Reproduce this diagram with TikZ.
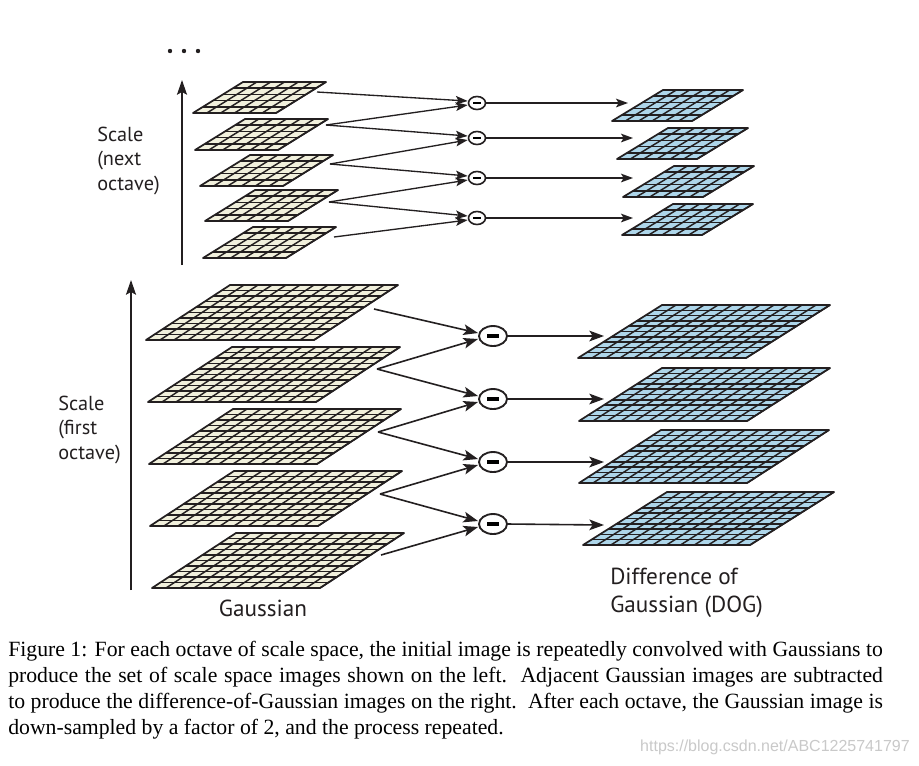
\documentclass[tikz,border=0pt]{standalone}
\usepackage{fontspec}
\setmainfont{Liberation Serif}
\newfontfamily\labfont{PT Sans}
\newfontfamily\wmfont{Liberation Sans}
\usetikzlibrary{arrows.meta,calc,shapes.geometric}

\definecolor{gfill}{HTML}{F1F0DC}
\definecolor{dfill}{HTML}{AED6EA}
\definecolor{ink}{HTML}{231F20}
\definecolor{wmgray}{HTML}{C9C9C9}

% #1 xbl, #2 ytop, #3 w, #4 h, #5 off, #6 cols, #7 rows, #8 fill
\newcommand\gridplane[8]{%
  \filldraw[fill=#8, draw=ink, line width=1.3pt, line join=round]
    (#1+#5,#2) -- ++(#3,0) -- (#1+#3,#2+#4) -- (#1,#2+#4) -- cycle;
  \foreach \i in {1,...,#7}{%
    \draw[gridline] ({#1+#5*(1-\i/#7)},{#2+\i*#4/#7}) -- ++(#3,0);}
  \foreach \j in {1,...,#6}{%
    \draw[gridline] ({#1+#5+\j*#3/#6},#2) -- ({#1+\j*#3/#6},{#2+#4});}
}

\tikzset{
  gridline/.style={draw=ink, line width=1.1pt},
  bigarr/.style={draw=ink, line width=1.2pt, -{Stealth[length=11pt,width=8pt,inset=2.5pt]}},
  smallarr/.style={draw=ink, line width=1.0pt, -{Stealth[length=9pt,width=6.5pt,inset=2pt]}},
  axisarr/.style={draw=ink, line width=1.3pt, -{Stealth[length=11pt,width=7.5pt,inset=2pt]}},
  bigminus/.style={ellipse, draw=ink, line width=1.4pt, minimum width=21pt, minimum height=15pt, inner sep=0pt, fill=white},
  smallminus/.style={ellipse, draw=ink, line width=1.2pt, minimum width=12.75pt, minimum height=9.75pt, inner sep=0pt, fill=white},
  lab/.style={anchor=base west, inner sep=0pt, text=ink, font=\labfont\fontsize{15.2pt}{18pt}\selectfont},
  biglab/.style={anchor=base west, inner sep=0pt, text=ink, font=\labfont\fontsize{17.4pt}{20pt}\selectfont},
  captxt/.style={anchor=base west, inner sep=0pt, font=\fontsize{16.3pt}{19.5pt}\selectfont},
}

\begin{document}
\begin{tikzpicture}[x=0.75pt, y=-0.75pt]
\useasboundingbox[fill=white] (0,0) rectangle (919,765);

% ---------- bottom octave: Gaussian planes ----------
\gridplane{146}{285}{168}{55}{84}{12}{10}{gfill}
\gridplane{148}{347}{168}{55}{84}{12}{10}{gfill}
\gridplane{149}{409}{168}{55}{84}{12}{10}{gfill}
\gridplane{150}{471}{168}{55}{84}{12}{10}{gfill}
\gridplane{152}{533}{168}{55}{84}{12}{10}{gfill}

% ---------- bottom octave: DOG planes ----------
\gridplane{578}{305}{168}{53}{84}{12}{10}{dfill}
\gridplane{579}{368}{168}{53}{83}{12}{10}{dfill}
\gridplane{579}{430}{168}{53}{82}{12}{10}{dfill}
\gridplane{583}{492}{167}{53}{84}{12}{10}{dfill}

% ---------- top octave: Gaussian planes ----------
\gridplane{193}{82}{83}{31}{50}{6}{5}{gfill}
\gridplane{195}{119}{83}{31}{50}{6}{5}{gfill}
\gridplane{200}{155}{83}{31}{50}{6}{5}{gfill}
\gridplane{205}{190}{83}{31}{50}{6}{5}{gfill}
\gridplane{203}{227}{83}{31}{50}{6}{5}{gfill}

% ---------- top octave: DOG planes ----------
\gridplane{612}{90}{80}{31}{51}{6}{5}{dfill}
\gridplane{617}{128}{80}{31}{51}{6}{5}{dfill}
\gridplane{623}{166}{80}{31}{51}{6}{5}{dfill}
\gridplane{622}{204}{80}{31}{51}{6}{5}{dfill}

% ---------- subtraction nodes ----------
\node[bigminus] (c1) at (493,336) {\rule[-1.4pt]{9pt}{2.8pt}};
\node[bigminus] (c2) at (493,399) {\rule[-1.4pt]{9pt}{2.8pt}};
\node[bigminus] (c3) at (493,462) {\rule[-1.4pt]{9pt}{2.8pt}};
\node[bigminus] (c4) at (493,524) {\rule[-1.4pt]{9pt}{2.8pt}};

\node[smallminus] (t1) at (477,103) {\rule[-1pt]{6pt}{2pt}};
\node[smallminus] (t2) at (477,138) {\rule[-1pt]{6pt}{2pt}};
\node[smallminus] (t3) at (477,178) {\rule[-1pt]{6pt}{2pt}};
\node[smallminus] (t4) at (477,218) {\rule[-1pt]{6pt}{2pt}};

% ---------- connector endpoints ----------
\coordinate (g1) at (374,309);
\coordinate (g2) at (377,369);
\coordinate (g3) at (378,432);
\coordinate (g4) at (380,494);
\coordinate (g5) at (381,555);
\coordinate (d1) at (604,336);
\coordinate (d2) at (604,399);
\coordinate (d3) at (604,462);
\coordinate (d4) at (604,525);

\coordinate (s1) at (317,92);
\coordinate (s2) at (326,125);
\coordinate (s3) at (330,164);
\coordinate (s4) at (329,202);
\coordinate (s5) at (334,237);
\coordinate (u1) at (628,103);
\coordinate (u2) at (633,138);
\coordinate (u3) at (633,178);
\coordinate (u4) at (633,218);

% ---------- bottom connectors ----------
\draw[bigarr] (g1) -- ($(c1.west)+(0,-3)$);
\draw[bigarr] (g2) -- ($(c1.west)+(0,3)$);
\draw[bigarr] (g2) -- ($(c2.west)+(0,-3)$);
\draw[bigarr] (g3) -- ($(c2.west)+(0,3)$);
\draw[bigarr] (g3) -- ($(c3.west)+(0,-3)$);
\draw[bigarr] (g4) -- ($(c3.west)+(0,3)$);
\draw[bigarr] (g4) -- ($(c4.west)+(0,-3)$);
\draw[bigarr] (g5) -- ($(c4.west)+(0,3)$);
\draw[bigarr] (c1.east) -- (d1);
\draw[bigarr] (c2.east) -- (d2);
\draw[bigarr] (c3.east) -- (d3);
\draw[bigarr] (c4.east) -- (d4);

% ---------- top connectors ----------
\draw[smallarr] (s1) -- ($(t1.west)+(0,-2)$);
\draw[smallarr] (s2) -- ($(t1.west)+(0,2)$);
\draw[smallarr] (s2) -- ($(t2.west)+(0,-2)$);
\draw[smallarr] (s3) -- ($(t2.west)+(0,2)$);
\draw[smallarr] (s3) -- ($(t3.west)+(0,-2)$);
\draw[smallarr] (s4) -- ($(t3.west)+(0,2)$);
\draw[smallarr] (s4) -- ($(t4.west)+(0,-2)$);
\draw[smallarr] (s5) -- ($(t4.west)+(0,2)$);
\draw[smallarr] (t1.east) -- (u1);
\draw[smallarr] (t2.east) -- (u2);
\draw[smallarr] (t3.east) -- (u3);
\draw[smallarr] (t4.east) -- (u4);

% ---------- scale axes ----------
\coordinate (a1s) at (182,265);
\coordinate (a1e) at (182,80);
\coordinate (a2s) at (131,590);
\coordinate (a2e) at (131,280);
\draw[axisarr] (a1s) -- (a1e);
\draw[axisarr] (a2s) -- (a2e);

% dots
\fill[ink] (170,51) circle (2.2);
\fill[ink] (184,51) circle (2.2);
\fill[ink] (198,51) circle (2.2);

% ---------- labels ----------
\node[lab] (ln1) at (97,141) {Scale};
\node[lab] (ln2) at (97,165) {(next};
\node[lab] (ln3) at (97,190) {octave)};
\node[lab] (lf1) at (58,410) {Scale};
\node[lab] (lf2) at (58,434) {(first};
\node[lab] (lf3) at (58,459) {octave)};
\node[biglab, anchor=base] (lg) at (263,616) {Gaussian};
\node[biglab] (ld1) at (610,584) {Difference of};
\node[biglab] (ld2) at (610,612) {Gaussian (DOG)};

% ---------- caption ----------
\node[captxt] (cp1) at (8,656) {\makebox[656pt][s]{Figure 1: For each octave of scale space, the initial image is repeatedly convolved with Gaussians to}};
\node[captxt] (cp2) at (8,682) {\makebox[656pt][s]{produce the set of scale space images shown on the left.\ \ Adjacent Gaussian images are subtracted}};
\node[captxt] (cp3) at (8,708) {\makebox[656pt][s]{to produce the difference-of-Gaussian images on the right.\ \ After each octave, the Gaussian image is}};
\node[captxt] (cp4) at (8,734) {down-sampled by a factor of 2, and the process repeated.};

\node[anchor=base east, inner sep=0pt, text=wmgray, font=\wmfont\fontsize{12pt}{14pt}\selectfont] (wm) at (910,751) {https://blog.csdn.net/ABC1225741797};
\end{tikzpicture}
\end{document}
